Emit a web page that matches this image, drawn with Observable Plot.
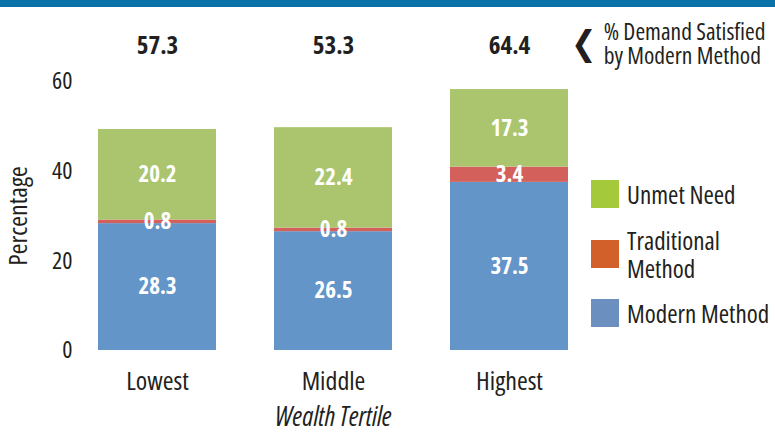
<!DOCTYPE html>
<html>
<head>
<meta charset="utf-8">
<script src="https://cdn.jsdelivr.net/npm/d3@7"></script>
<script src="https://cdn.jsdelivr.net/npm/@observablehq/plot@0.6"></script>
<style>
  html, body { margin: 0; padding: 0; background: #fff; }
  #wrap { position: relative; width: 775px; height: 432px; overflow: hidden;
    font-family: "Open Sans", sans-serif; font-stretch: 75%; color: #231f20; }
  #wrap svg text { font-stretch: 75%; }
  #band { position: absolute; left: 0; top: 0; width: 775px; height: 7px; background: #0b72a8; }
  #legend { position: absolute; left: 591px; top: 180px; }
  .item { position: absolute; left: 0; display: flex; align-items: center; white-space: nowrap; }
  .sw { width: 28px; height: 28px; flex: none; }
  .lab { margin-left: 8px; font-size: 25px; line-height: 28px; }
  #note { position: absolute; left: 571px; top: 19px; display: flex; align-items: center; white-space: nowrap; }
  #note .chev { font-size: 34px; font-weight: bold; margin-right: 7px; font-family: "DejaVu Sans", sans-serif; }
  #note .txt { font-size: 23.5px; line-height: 24px; }
</style>
</head>
<body>
<div id="wrap">
  <div id="chart"></div>
  <div id="band"></div>
  <div id="note"><span class="chev">❮</span><span class="txt">% Demand Satisfied<br>by Modern Method</span></div>
  <div id="legend"></div>
</div>
<script>
const tertiles = ["Lowest", "Middle", "Highest"];
const modern = [28.3, 26.5, 37.5];
const traditional = [0.8, 0.8, 3.4];
const unmet = [20.2, 22.4, 17.3];
const demandSatisfied = [57.3, 53.3, 64.4];
const types = ["Modern Method", "Traditional Method", "Unmet Need"];
const barColors = ["#6395c9", "#d4605b", "#aac56d"];
const legendLabels = ["Unmet Need", "Traditional<br>Method", "Modern Method"];
const legendColors = ["#a4c93b", "#d2602a", "#6b8fbf"];
const yTicks = [0, 20, 40, 60];

const rows = [];
[modern, traditional, unmet].forEach((series, si) => {
  series.forEach((v, i) => rows.push({tertile: tertiles[i], type: types[si], value: v}));
});
const totals = tertiles.map((t, i) => ({tertile: t, value: demandSatisfied[i]}));

const font = '"Open Sans", sans-serif';

const chart = Plot.plot({
  width: 775,
  height: 432,
  marginLeft: 69,
  marginRight: 178,
  marginTop: 81,
  marginBottom: 82,
  style: {fontFamily: font, fontSize: "24px", color: "#231f20", background: "transparent"},
  x: {domain: tertiles, paddingInner: 0.33, paddingOuter: 0.165},
  y: {domain: [0, 60]},
  color: {domain: types, range: barColors},
  marks: [
    Plot.barY(rows, {x: "tertile", y: "value", fill: "type", order: types}),
    Plot.text(rows, Plot.stackY({x: "tertile", y: "value", z: "type", order: types,
      text: d => d.value.toFixed(1), fill: "white", fontWeight: "bold", fontSize: 23})),
    Plot.text(totals, {x: "tertile", text: d => d.value.toFixed(1), frameAnchor: "top", dy: -45,
      fontWeight: "bold", fontSize: 25, fill: "#231f20"}),
    Plot.axisY({ticks: yTicks, tickSize: 0, tickPadding: -3, fontSize: 24, label: null}),
    Plot.axisY({ticks: [], tickSize: 0, label: "Percentage", labelAnchor: "center",
      labelArrow: false, labelOffset: 61, fontSize: 26}),
    Plot.axisX({tickSize: 0, tickPadding: 21, fontSize: 26, label: null}),
    Plot.axisX({ticks: [], tickSize: 0, label: "Wealth Tertile", labelAnchor: "center",
      labelArrow: false, labelOffset: 75, fontSize: 26.5})
  ]
});
document.getElementById("chart").appendChild(chart);
chart.querySelectorAll("[aria-label='x-axis label'] text, [aria-label='x-axis label']").forEach(el => el.setAttribute("font-style", "italic"));

const legend = document.getElementById("legend");
const tops = [0, 46, 119];
legendLabels.forEach((l, i) => {
  const it = document.createElement("div");
  it.className = "item";
  it.style.top = tops[i] + "px";
  it.innerHTML = `<div class="sw" style="background:${legendColors[i]}"></div><div class="lab">${l}</div>`;
  legend.appendChild(it);
});
</script>
</body>
</html>
